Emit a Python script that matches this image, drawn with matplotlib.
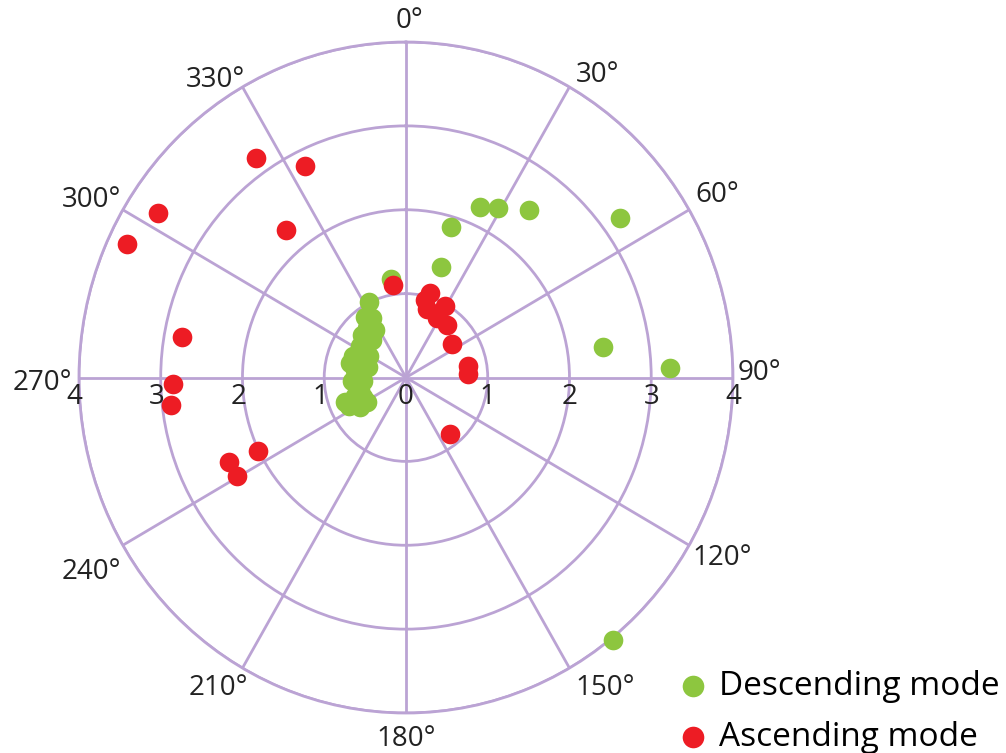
import numpy as np
import matplotlib
matplotlib.use("Agg")
import matplotlib.pyplot as plt

plt.rcParams['font.family'] = ['Open Sans', 'DejaVu Sans']

# ---- data (theta in degrees clockwise from north, radius) ----
desc_theta = [54, 37, 29, 24, 17, 18, 351, 81.5, 88, 141,
              333.5, 325, 321, 317, 304, 300, 292, 287, 278, 272,
              266, 255, 246, 244, 238,
              329.4, 326, 313, 305.3, 284.6, 266.9, 285.7, 251, 237.9, 248.2]
desc_r = [3.23, 2.50, 2.31, 2.22, 1.88, 1.39, 1.19, 2.44, 3.23, 4.02,
          1.01, 0.88, 0.76, 0.61, 0.68, 0.52, 0.70, 0.61, 0.63, 0.59,
          0.53, 0.58, 0.58, 0.77, 0.66,
          0.82, 0.68, 0.74, 0.60, 0.71, 0.66, 0.48, 0.66, 0.56, 0.80]

asc_theta = [325, 334, 303, 295, 320, 280, 268.5, 263.5, 245, 240.5,
             244, 352, 16, 17, 14, 29, 28, 39, 55, 80, 87, 141]
asc_r = [3.20, 2.81, 3.61, 3.76, 2.29, 2.78, 2.85, 2.89, 2.39, 2.38,
         2.01, 1.11, 1.05, 0.86, 0.95, 0.98, 0.81, 0.80, 0.69, 0.77, 0.76, 0.86]

angle_ticks = [0, 30, 60, 90, 120, 150, 180, 210, 240, 270, 300, 330]
angle_labels = [f"{a}°" for a in angle_ticks]
radial_ticks = [0, 1, 2, 3, 4]
radial_labels = ["0", "1", "2", "3", "4"]

labels = ["Descending mode", "Ascending mode"]

# ---- style / layout ----
green = "#8DC63F"
red = "#ED1C24"
grid_color = "#BBA3D4"
# where each angle label sits: direction (deg) and distance (px) from centre
label_dir = [0.6, 32.4, 59.7, 89.2, 119.8, 147.4, 180, 211.2, 238.2, 269.1, 299.4, 327.3]
label_dist = [357, 358, 361, 354, 364, 369, 361, 363, 370, 364, 361, 353]

fig = plt.figure(figsize=(10.06, 7.53), dpi=100)
ax = fig.add_axes([0.0785, 0.0531, 0.6501, 0.8911], projection='polar')
ax.set_aspect('auto')
ax.set_theta_zero_location('N')
ax.set_theta_direction(-1)
ax.set_ylim(0, 4)
ax.set_thetagrids(angle_ticks, labels=[''] * len(angle_ticks))
ax.set_rgrids([1, 2, 3, 4], labels=[''] * 4)
ax.grid(True, color=grid_color, lw=2)
ax.spines['polar'].set_color(grid_color)
ax.spines['polar'].set_linewidth(2)
ax.tick_params(length=0)

h1 = ax.scatter(np.deg2rad(desc_theta), desc_r, s=200, color=green, zorder=3,
                clip_on=False, linewidths=0, label=labels[0])
h2 = ax.scatter(np.deg2rad(asc_theta), asc_r, s=200, color=red, zorder=4,
                clip_on=False, linewidths=0, label=labels[1])

# angle labels
for lab, d, dist in zip(angle_labels, label_dir, label_dist):
    ang = np.deg2rad(d)
    ax.annotate(lab, xy=(0, 0), xytext=(dist * np.sin(ang), dist * np.cos(ang)),
                textcoords='offset pixels', ha='center', va='center',
                fontsize=20, color='#222222', annotation_clip=False)

# radial labels along the horizontal axis
for r, lab in zip(radial_ticks, radial_labels):
    ax.annotate(lab, xy=(np.deg2rad(90), r), xytext=(0, -4),
                textcoords='offset points', ha='center', va='top',
                fontsize=20, color='#222222', annotation_clip=False)
    if r > 0:
        ax.annotate(lab, xy=(np.deg2rad(270), r), xytext=(-3, -4),
                    textcoords='offset points', ha='center', va='top',
                    fontsize=20, color='#222222', annotation_clip=False)

fig.legend(handles=[h1, h2], labels=labels, loc='upper left',
           bbox_to_anchor=(676 / 1006, 0.1104), bbox_transform=fig.transFigure,
           frameon=False, fontsize=24, handlelength=1.0, handletextpad=0.3,
           labelspacing=0.53, borderpad=0, borderaxespad=0, scatterpoints=1,
           markerscale=1.1)

fig.savefig("out.png", dpi=100, facecolor='white')
